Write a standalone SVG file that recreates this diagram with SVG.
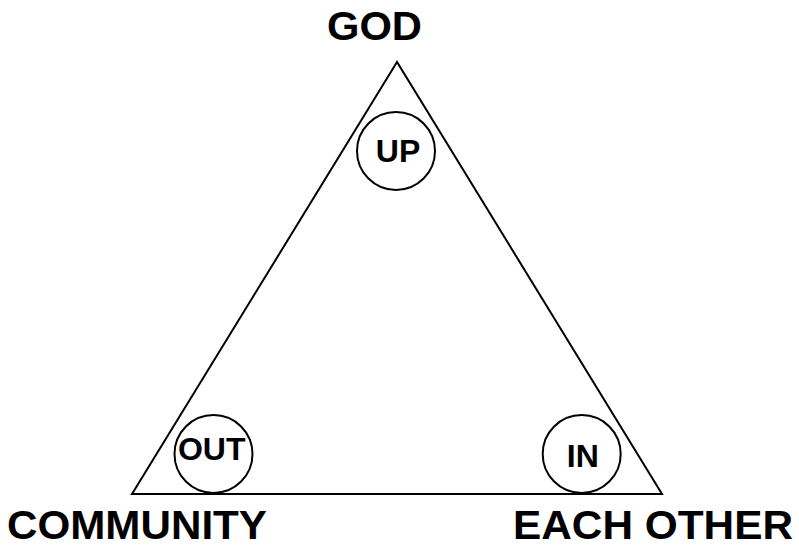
<svg xmlns="http://www.w3.org/2000/svg" width="799" height="548" viewBox="0 0 799 548">
<style>
.big{font-family:"Liberation Sans",Arial,sans-serif;font-weight:bold;font-size:41px;fill:#000;text-anchor:middle}
.small{font-family:"Liberation Sans",Arial,sans-serif;font-weight:bold;font-size:32px;fill:#000;text-anchor:middle}
.ln{fill:none;stroke:#000;stroke-width:2}
</style>
<rect width="799" height="548" fill="#fff"/>
<g id="connectors">
<polygon class="ln" points="397,62 132,494 662,494"/>
</g>
<g id="god"><text class="big" x="374.5" y="40" textLength="95" lengthAdjust="spacingAndGlyphs">GOD</text></g>
<g id="community"><text class="big" x="137" y="539" textLength="260" lengthAdjust="spacingAndGlyphs">COMMUNITY</text></g>
<g id="eachother"><text class="big" x="653" y="539" textLength="280" lengthAdjust="spacingAndGlyphs">EACH OTHER</text></g>
<g id="up"><circle class="ln" cx="396" cy="151" r="39"/><text class="small" x="398" y="162">UP</text></g>
<g id="out"><circle class="ln" cx="213.5" cy="454" r="39"/><text class="small" x="211.7" y="460">OUT</text></g>
<g id="in"><circle class="ln" cx="581.7" cy="454" r="39"/><text class="small" x="582.8" y="467">IN</text></g>
</svg>
